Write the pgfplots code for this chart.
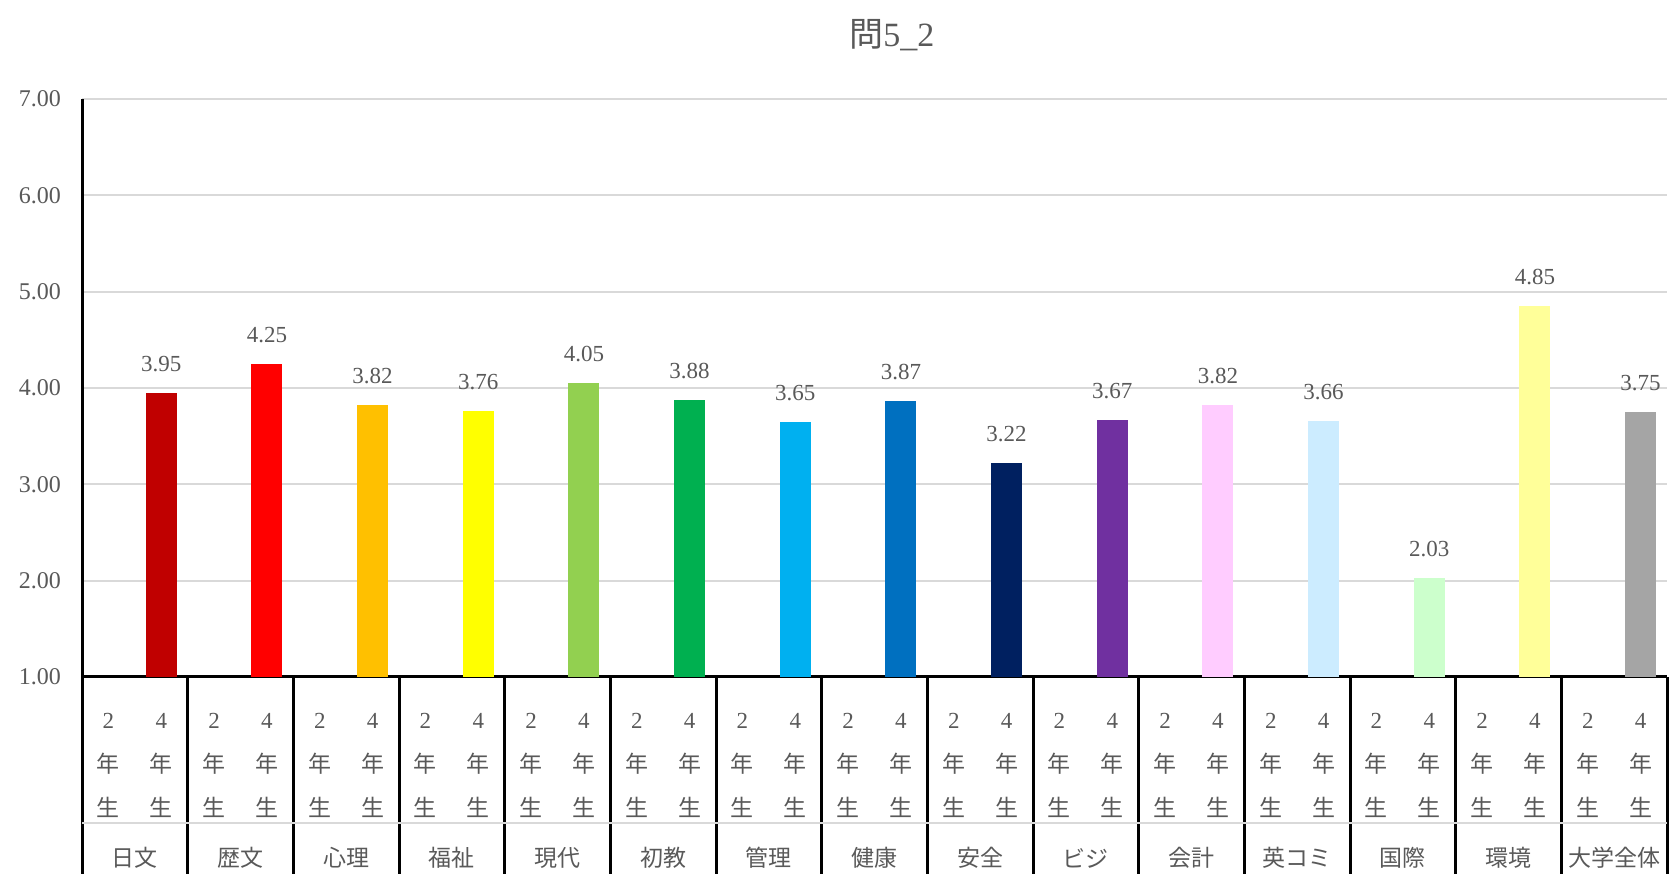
\documentclass[border=0pt]{standalone}
\usepackage{pgfplots}
\pgfplotsset{compat=1.18}
\usepackage{fontspec}
\setmainfont{Liberation Serif}
\newfontfamily\jp{Noto Sans CJK JP}
\definecolor{txt}{HTML}{595959}
\definecolor{gridc}{HTML}{D9D9D9}
\definecolor{c1}{HTML}{C00000}
\definecolor{c2}{HTML}{FF0000}
\definecolor{c3}{HTML}{FFC000}
\definecolor{c4}{HTML}{FFFF00}
\definecolor{c5}{HTML}{92D050}
\definecolor{c6}{HTML}{00B050}
\definecolor{c7}{HTML}{00B0F0}
\definecolor{c8}{HTML}{0070C0}
\definecolor{c9}{HTML}{002060}
\definecolor{c10}{HTML}{7030A0}
\definecolor{c11}{HTML}{FFCCFF}
\definecolor{c12}{HTML}{CCECFF}
\definecolor{c13}{HTML}{CCFFCC}
\definecolor{c14}{HTML}{FFFF99}
\definecolor{c15}{HTML}{A5A5A5}
\newcommand\sub[1]{#1\\{\jp 年}\\{\jp 生}}

\begin{document}
\begin{tikzpicture}
\begin{axis}[
  scale only axis, width=792.5pt, height=289pt,
  xmin=-0.5, xmax=29.5, ymin=1, ymax=7,
  ytick={1,2,...,7},
  ymajorgrids, grid style={gridc, line width=1pt},
  axis x line*=bottom, axis y line*=left,
  axis line style={-, black, line width=1.5pt},
  ybar, bar width=15.5pt, bar shift=0pt,
  clip mode=individual,
  /pgf/number format/.cd, fixed, fixed zerofill, precision=2, assume math mode=true,
  /pgfplots/.cd,
  yticklabel style={font=\fontsize{12}{14}\selectfont, text=txt, xshift=-7pt},
  ytick style={draw=none},
  xtick={0,...,29},
  xticklabels={\sub2,\sub4,\sub2,\sub4,\sub2,\sub4,\sub2,\sub4,\sub2,\sub4,
    \sub2,\sub4,\sub2,\sub4,\sub2,\sub4,\sub2,\sub4,\sub2,\sub4,
    \sub2,\sub4,\sub2,\sub4,\sub2,\sub4,\sub2,\sub4,\sub2,\sub4},
  xticklabel style={align=center, font=\fontsize{11.5}{22}\selectfont, text=txt, anchor=north, yshift=-10.5pt},
  major x tick style={draw=none},
  extra x ticks={-0.5,1.5,...,29.5},
  extra x tick labels={},
  extra x tick style={tick align=outside, major tick length=200pt,
    major x tick style={draw=black, line width=1.5pt}},
  nodes near coords,
  every node near coord/.append style={font=\fontsize{11.5}{13}\selectfont, text=txt, anchor=south, yshift=7pt},
]
\addplot[fill=c1, draw=none] coordinates {(1,3.95)};
\addplot[fill=c2, draw=none] coordinates {(3,4.25)};
\addplot[fill=c3, draw=none] coordinates {(5,3.82)};
\addplot[fill=c4, draw=none] coordinates {(7,3.76)};
\addplot[fill=c5, draw=none] coordinates {(9,4.05)};
\addplot[fill=c6, draw=none] coordinates {(11,3.88)};
\addplot[fill=c7, draw=none] coordinates {(13,3.65)};
\addplot[fill=c8, draw=none] coordinates {(15,3.87)};
\addplot[fill=c9, draw=none] coordinates {(17,3.22)};
\addplot[fill=c10, draw=none] coordinates {(19,3.67)};
\addplot[fill=c11, draw=none] coordinates {(21,3.82)};
\addplot[fill=c12, draw=none] coordinates {(23,3.66)};
\addplot[fill=c13, draw=none] coordinates {(25,2.03)};
\addplot[fill=c14, draw=none] coordinates {(27,4.85)};
\addplot[fill=c15, draw=none] coordinates {(29,3.75)};

\draw[gridc, line width=0.6pt] ([yshift=-73pt]axis cs:-0.5,1) -- ([yshift=-73pt]axis cs:29.5,1);

\node[font=\fontsize{17}{20}\selectfont, text=txt] at ([yshift=32pt]axis cs:14.83,7) {{\jp 問}5\_2};

\begin{scope}[every node/.style={font=\jp\fontsize{11.5}{14}\selectfont, text=txt}]
\node at ([yshift=-90.5pt]axis cs:0.5,1) {日文};
\node at ([yshift=-90.5pt]axis cs:2.5,1) {歴文};
\node at ([yshift=-90.5pt]axis cs:4.5,1) {心理};
\node at ([yshift=-90.5pt]axis cs:6.5,1) {福祉};
\node at ([yshift=-90.5pt]axis cs:8.5,1) {現代};
\node at ([yshift=-90.5pt]axis cs:10.5,1) {初教};
\node at ([yshift=-90.5pt]axis cs:12.5,1) {管理};
\node at ([yshift=-90.5pt]axis cs:14.5,1) {健康};
\node at ([yshift=-90.5pt]axis cs:16.5,1) {安全};
\node at ([yshift=-90.5pt]axis cs:18.5,1) {ビジ};
\node at ([yshift=-90.5pt]axis cs:20.5,1) {会計};
\node at ([yshift=-90.5pt]axis cs:22.5,1) {英コミ};
\node at ([yshift=-90.5pt]axis cs:24.5,1) {国際};
\node at ([yshift=-90.5pt]axis cs:26.5,1) {環境};
\node at ([yshift=-90.5pt]axis cs:28.5,1) {大学全体};
\end{scope}
\end{axis}
\pgfresetboundingbox
\path[use as bounding box] ([shift={(-41pt,-98.5pt)}]current axis.south west) rectangle ([shift={(1pt,49.5pt)}]current axis.north east);
\end{tikzpicture}
\end{document}
